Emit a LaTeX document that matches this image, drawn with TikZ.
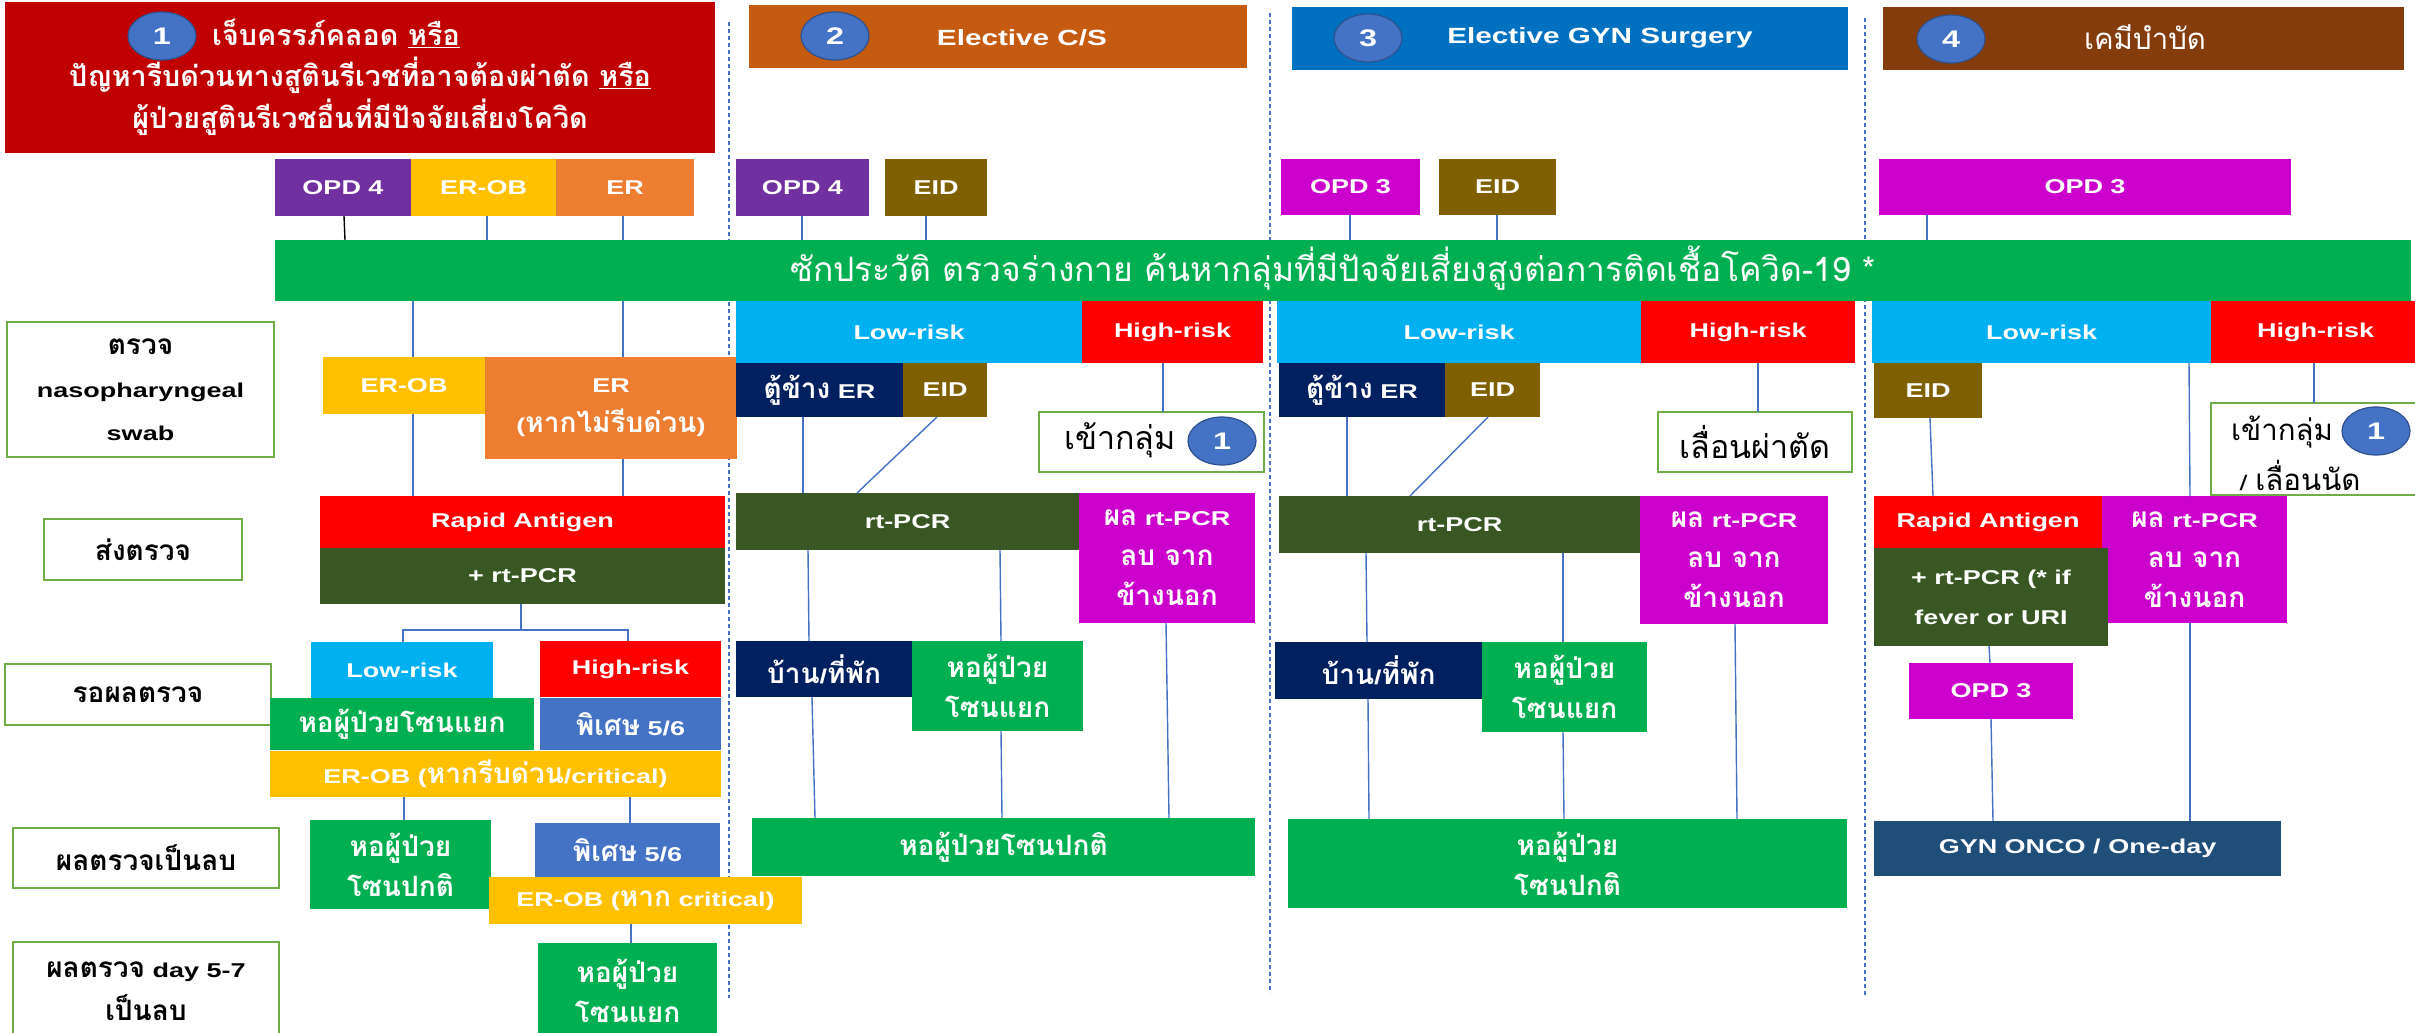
\documentclass[tikz,border=0pt]{standalone}
\usepackage{fontspec}
\setmainfont{Liberation Sans}[FakeStretch=1.35]
\newfontfamily\thaifont{Loma}[Script=Thai,Scale=1.4]
\newcommand\tx[1]{{\thaifont #1}}
\usetikzlibrary{shapes.geometric}

\definecolor{darkred}{HTML}{C00000}
\definecolor{csorange}{HTML}{C55A11}
\definecolor{gynblue}{HTML}{0070C0}
\definecolor{chemo}{HTML}{843C0C}
\definecolor{purp}{HTML}{7030A0}
\definecolor{amber}{HTML}{FFC000}
\definecolor{erorange}{HTML}{ED7D31}
\definecolor{zonegreen}{HTML}{00B050}
\definecolor{skyblue}{HTML}{00B0F0}
\definecolor{hired}{HTML}{FF0000}
\definecolor{navy}{HTML}{002060}
\definecolor{eidbrown}{HTML}{7F6000}
\definecolor{magenta3}{HTML}{CC00CC}
\definecolor{pcrgreen}{HTML}{385723}
\definecolor{vipblue}{HTML}{4472C4}
\definecolor{onco}{HTML}{1F4E79}
\definecolor{badgeedge}{HTML}{2F528F}
\definecolor{labgreen}{HTML}{70AD47}
\definecolor{connblue}{HTML}{4472C4}

\tikzset{
  tile/.style={fill=#1, inner sep=0pt, outer sep=0pt, text=white, align=center,
    font=\bfseries\fontsize{20}{40}\selectfont},
  lab/.style={draw=labgreen, line width=1.5pt, fill=white, inner sep=0pt, outer sep=0pt,
    text=black, align=center, font=\bfseries\fontsize{20}{43}\selectfont},
  note/.style={draw=labgreen, line width=1.5pt, fill=white, inner sep=0pt, outer sep=0pt,
    text=black, align=center, font=\fontsize{23}{40}\selectfont},
  plain/.style={inner sep=0pt, text=black, font=\fontsize{23}{40}\selectfont},
  ttl/.style={inner sep=0pt, text=white, align=center, font=\bfseries\fontsize{20.5}{42}\selectfont},
  hdr/.style={inner sep=0pt, text=white, font=\bfseries\fontsize{22}{22}\selectfont},
  badge/.style={ellipse, fill=vipblue, draw=badgeedge, line width=1.2pt,
    minimum width=68pt, minimum height=48pt, inner sep=0pt, text=white,
    font=\bfseries\fontsize{24}{24}\selectfont},
  conn/.style={draw=connblue, line width=1.4pt},
  colsep/.style={draw=connblue, line width=1.4pt, dash pattern=on 4pt off 3pt},
}

% box from its corners: name, style, x1, y1, x2, y2, text
\newcommand\bx[7]{\node[#2, minimum width={(#5)-(#3)}, minimum height={(#6)-(#4)}]
  (#1) at ({((#3)+(#5))/2},{((#4)+(#6))/2}) {#7};}

\begin{document}
\begin{tikzpicture}[x=1pt,y=-1pt]
\useasboundingbox (0,0) rectangle (2415,1033);
\clip (0,0) rectangle (2415,1033);
\fill[white] (0,0) rectangle (2415,1033);

% column separators
\draw[colsep] (729,22) -- (729,998);
\draw[colsep] (1270,13) -- (1270,993);
\draw[colsep] (1865,18) -- (1865,997);

% ---------- headers ----------
\bx{t1}{tile=darkred}{5}{2}{715}{153}{}
\node[badge] (c1) at (162,36) {1};
\node[ttl] (t1a) at (336,33) {\tx{เจ็บครรภ์คลอด \underline{หรือ}}};
\node[ttl] (t1b) at (360,96) {\tx{ปัญหารีบด่วนทางสูตินรีเวชที่อาจต้องผ่าตัด \underline{หรือ}}\\\tx{ผู้ป่วยสูตินรีเวชอื่นที่มีปัจจัยเสี่ยงโควิด}};

\bx{h2}{tile=csorange}{749}{5}{1247}{68}{}
\node[badge] (c2) at (835,36) {2};
\node[hdr] (h2t) at (1022,38) {Elective C/S};

\bx{h3}{tile=gynblue}{1292}{7}{1848}{70}{}
\node[badge] (c3) at (1368,38) {3};
\node[hdr] (h3t) at (1600,38) {Elective GYN Surgery};

\bx{h4}{tile=chemo}{1883}{7}{2404}{70}{}
\node[badge] (c4) at (1951,39) {4};
\node[hdr, font=\fontsize{21}{22}\selectfont] (h4t) at (2145,37) {\tx{เคมีบำบัด}};

% ---------- entry points ----------
\bx{opd1}{tile=purp}{275}{159}{411}{216}{OPD 4}
\bx{erob1}{tile=amber}{411}{159}{556}{216}{ER-OB}
\bx{er1}{tile=erorange}{556}{159}{694}{216}{ER}
\bx{opd2}{tile=purp}{736}{159}{869}{216}{OPD 4}
\bx{eid2}{tile=eidbrown}{885}{159}{987}{216}{EID}
\bx{opd3}{tile=magenta3}{1281}{159}{1420}{215}{OPD 3}
\bx{eid3}{tile=eidbrown}{1439}{159}{1556}{215}{EID}
\bx{opd4}{tile=magenta3}{1879}{159}{2291}{215}{OPD 3}

% screening bar
\bx{bar}{tile=zonegreen}{275}{240}{2411}{301}{}
\node[inner sep=0pt, text=white, font=\fontsize{24}{27}\selectfont] (bart) at (1333,268)
  {\tx{ซักประวัติ ตรวจร่างกาย ค้นหากลุ่มที่มีปัจจัยเสี่ยงสูงต่อการติดเชื้อโควิด-19 *}};

% ---------- row labels ----------
\bx{lab1}{lab}{7}{322}{274}{457}{\tx{ตรวจ}\\nasopharyngeal\\swab}
\bx{lab2}{lab}{44}{519}{242}{580}{\tx{ส่งตรวจ}}
\bx{lab3}{lab}{5}{664}{271}{725}{\tx{รอผลตรวจ}}
\bx{lab4}{lab}{13}{828}{279}{888}{\tx{ผลตรวจเป็นลบ}}
\bx{lab5}{lab}{13}{942}{279}{1040}{\tx{ผลตรวจ} day 5-7\\\tx{เป็นลบ}}

% ---------- column 1 ----------
\bx{erob1b}{tile=amber}{323}{357}{485}{414}{ER-OB}
\bx{er1b}{tile=erorange}{485}{357}{737}{459}{ER\\(\tx{หากไม่รีบด่วน})}
\bx{ra1}{tile=hired}{320}{496}{725}{548}{Rapid Antigen}
\bx{rtp1}{tile=pcrgreen}{320}{548}{725}{604}{+ rt-PCR}
\bx{low1}{tile=skyblue}{311}{642}{493}{699}{Low-risk}
\bx{high1}{tile=hired}{540}{641}{721}{697}{High-risk}
\bx{sep1}{tile=zonegreen}{270}{698}{534}{750}{\tx{หอผู้ป่วยโซนแยก}}
\bx{vip1}{tile=vipblue}{540}{698}{721}{750}{\tx{พิเศษ} 5/6}
\bx{erob1c}{tile=amber}{270}{751}{721}{797}{ER-OB (\tx{หากรีบด่วน}/critical)}
\bx{norm1}{tile=zonegreen}{310}{820}{491}{909}{\tx{หอผู้ป่วย}\\\tx{โซนปกติ}}
\bx{vip1b}{tile=vipblue}{535}{823}{720}{877}{\tx{พิเศษ} 5/6}
\bx{erob1d}{tile=amber}{489}{877}{802}{924}{ER-OB (\tx{หาก} critical)}
\bx{sep1b}{tile=zonegreen}{538}{943}{717}{1038}{\tx{หอผู้ป่วย}\\\tx{โซนแยก}}

% ---------- column 2 ----------
\bx{low2}{tile=skyblue}{736}{301}{1082}{363}{Low-risk}
\bx{high2}{tile=hired}{1082}{301}{1263}{363}{High-risk}
\bx{cab2}{tile=navy}{736}{363}{903}{417}{\tx{ตู้ข้าง} ER}
\bx{eid2b}{tile=eidbrown}{903}{363}{987}{417}{EID}
\bx{join2}{note}{1039}{412}{1264}{472}{}
\node[plain] (join2t) at (1120,440) {\tx{เข้ากลุ่ม}};
\node[badge] (cj2) at (1222,441) {1};
\bx{rt2}{tile=pcrgreen}{736}{493}{1079}{550}{rt-PCR}
\bx{neg2}{tile=magenta3}{1079}{493}{1255}{623}{\tx{ผล} rt-PCR\\\tx{ลบ จาก}\\\tx{ข้างนอก}}
\bx{home2}{tile=navy}{736}{641}{912}{697}{\tx{บ้าน}/\tx{ที่พัก}}
\bx{sep2}{tile=zonegreen}{912}{641}{1083}{731}{\tx{หอผู้ป่วย}\\\tx{โซนแยก}}
\bx{norm2}{tile=zonegreen}{752}{818}{1255}{876}{\tx{หอผู้ป่วยโซนปกติ}}

% ---------- column 3 ----------
\bx{low3}{tile=skyblue}{1277}{301}{1641}{363}{Low-risk}
\bx{high3}{tile=hired}{1641}{301}{1855}{363}{High-risk}
\bx{cab3}{tile=navy}{1279}{363}{1445}{417}{\tx{ตู้ข้าง} ER}
\bx{eid3b}{tile=eidbrown}{1445}{363}{1540}{417}{EID}
\bx{post3}{note}{1658}{412}{1852}{472}{\tx{เลื่อนผ่าตัด}}
\bx{rt3}{tile=pcrgreen}{1279}{496}{1640}{553}{rt-PCR}
\bx{neg3}{tile=magenta3}{1640}{496}{1828}{624}{\tx{ผล} rt-PCR\\\tx{ลบ จาก}\\\tx{ข้างนอก}}
\bx{home3}{tile=navy}{1275}{642}{1482}{699}{\tx{บ้าน}/\tx{ที่พัก}}
\bx{sep3}{tile=zonegreen}{1482}{642}{1647}{732}{\tx{หอผู้ป่วย}\\\tx{โซนแยก}}
\bx{norm3}{tile=zonegreen}{1288}{819}{1847}{908}{\tx{หอผู้ป่วย}\\\tx{โซนปกติ}}

% ---------- column 4 ----------
\bx{low4}{tile=skyblue}{1872}{301}{2211}{363}{Low-risk}
\bx{high4}{tile=hired}{2211}{301}{2420}{363}{High-risk}
\bx{eid4}{tile=eidbrown}{1874}{363}{1982}{418}{EID}
\bx{join4}{note}{2211}{403}{2420}{495}{}
\node[plain, font=\fontsize{21}{40}\selectfont] (join4t) at (2282,432) {\tx{เข้ากลุ่ม}};
\node[plain, font=\fontsize{21}{40}\selectfont] (join4u) at (2300,475) {/ \tx{เลื่อนนัด}};
\node[badge] (cj4) at (2376,431) {1};
\bx{neg4}{tile=magenta3}{2102}{496}{2287}{623}{\tx{ผล} rt-PCR\\\tx{ลบ จาก}\\\tx{ข้างนอก}}
\bx{ra4}{tile=hired}{1874}{496}{2102}{548}{Rapid Antigen}
\bx{rtp4}{tile=pcrgreen}{1874}{548}{2108}{646}{+ rt-PCR (* if\\fever or URI}
\bx{opd4b}{tile=magenta3}{1909}{663}{2073}{719}{OPD 3}
\bx{gyn}{tile=onco}{1874}{821}{2281}{876}{GYN ONCO / One-day}

% ---------- connectors ----------
\draw[conn, draw=black] (opd1.south -| 344,0) -- (bar.north -| 345,0);
\draw[conn] (erob1.south -| 487,0) -- (bar.north -| 487,0);
\draw[conn] (er1.south -| 623,0) -- (bar.north -| 623,0);
\draw[conn] (opd2.south -| 802,0) -- (bar.north -| 802,0);
\draw[conn] (eid2.south -| 926,0) -- (bar.north -| 926,0);
\draw[conn] (opd3.south -| 1350,0) -- (bar.north -| 1350,0);
\draw[conn] (eid3.south -| 1497,0) -- (bar.north -| 1497,0);
\draw[conn] (opd4.south -| 1927,0) -- (bar.north -| 1927,0);

\draw[conn] (bar.south -| 413,0) -- (erob1b.north -| 413,0);
\draw[conn] (bar.south -| 623,0) -- (er1b.north -| 623,0);
\draw[conn] (erob1b.south -| 413,0) -- (ra1.north -| 413,0);
\draw[conn] (er1b.south -| 623,0) -- (ra1.north -| 623,0);
\coordinate (br1) at (521,630);
\draw[conn] (rtp1.south -| 521,0) -- (br1);
\draw[conn] (low1.north -| 403,0) |- (br1) -| (high1.north -| 628,0);
\draw[conn] (erob1c.south -| 404,0) -- (norm1.north -| 404,0);
\draw[conn] (erob1c.south -| 630,0) -- (vip1b.north -| 630,0);
\draw[conn] (erob1d.south -| 631,0) -- (sep1b.north -| 631,0);

\draw[conn] (high2.south -| 1163,0) -- (join2.north -| 1163,0);
\draw[conn] (cab2.south -| 803,0) -- (rt2.north -| 803,0);
\draw[conn] (eid2b.south -| 937,0) -- (rt2.north -| 857,0);
\draw[conn] (rt2.south -| 808,0) -- (home2.north -| 809,0);
\draw[conn] (home2.south -| 812,0) -- (norm2.north -| 815,0);
\draw[conn] (rt2.south -| 1000,0) -- (sep2.north -| 1001,0);
\draw[conn] (sep2.south -| 1001,0) -- (norm2.north -| 1002,0);
\draw[conn] (neg2.south -| 1166,0) -- (norm2.north -| 1169,0);

\draw[conn] (high3.south -| 1758,0) -- (post3.north -| 1758,0);
\draw[conn] (cab3.south -| 1347,0) -- (rt3.north -| 1347,0);
\draw[conn] (eid3b.south -| 1488,0) -- (rt3.north -| 1410,0);
\draw[conn] (rt3.south -| 1366,0) -- (home3.north -| 1367,0);
\draw[conn] (home3.south -| 1368,0) -- (norm3.north -| 1369,0);
\draw[conn] (rt3.south -| 1563,0) -- (sep3.north -| 1563,0);
\draw[conn] (sep3.south -| 1563,0) -- (norm3.north -| 1564,0);
\draw[conn] (neg3.south -| 1735,0) -- (norm3.north -| 1737,0);

\draw[conn] (eid4.south -| 1930,0) -- (ra4.north -| 1933,0);
\draw[conn] (low4.south -| 2189,0) -- (neg4.north -| 2190,0);
\draw[conn] (high4.south -| 2314,0) -- (join4.north -| 2314,0);
\draw[conn] (rtp4.south -| 1989,0) -- (opd4b.north -| 1990,0);
\draw[conn] (opd4b.south -| 1991,0) -- (gyn.north -| 1993,0);
\draw[conn] (neg4.south -| 2190,0) -- (gyn.north -| 2190,0);
\end{tikzpicture}
\end{document}
